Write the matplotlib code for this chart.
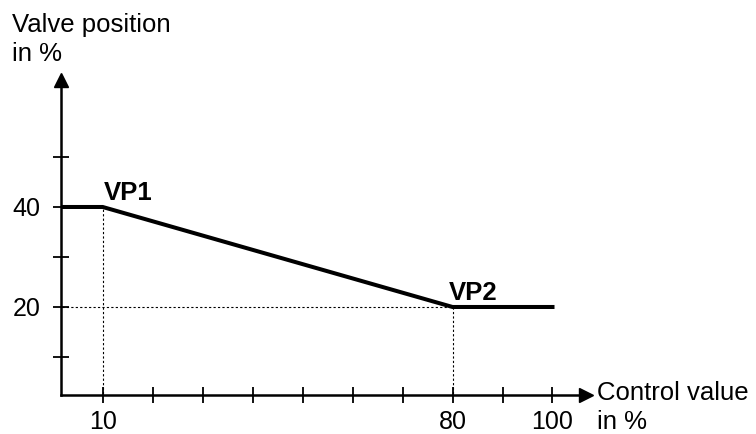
import matplotlib
matplotlib.use("Agg")
from matplotlib import pyplot as plt

plt.rcParams['font.family'] = ['Liberation Sans', 'DejaVu Sans']

# characteristic curve: control value -> valve position
control = [0, 10, 80, 100]
valve = [40, 40, 20, 20]

vp_names = ["VP1", "VP2"]
vp_x = [10, 80]
vp_y = [40, 20]

x_ticks = [10, 20, 30, 40, 50, 60, 70, 80, 90, 100]
x_labels = ["10", "", "", "", "", "", "", "80", "", "100"]
y_ticks = [10, 20, 30, 40, 50]
y_labels = ["", "20", "", "40", ""]

fig = plt.figure(figsize=(7.56, 4.34), dpi=100)
ax = fig.add_axes([0.0807, 0.0899, 0.6944, 0.7258])
ax.set_xlim(1.66, 106.7)
ax.set_ylim(2.4, 65.4)

for s in ["top", "right"]:
    ax.spines[s].set_visible(False)
for s in ["left", "bottom"]:
    ax.spines[s].set_linewidth(1.8)

# arrow heads at the axis ends
ax.plot(1, 0, ">k", ms=10, transform=ax.transAxes, clip_on=False)
ax.plot(0, 1, "^k", ms=10, transform=ax.transAxes, clip_on=False)

ax.set_xticks(x_ticks)
ax.set_xticklabels(x_labels)
ax.set_yticks(y_ticks)
ax.set_yticklabels(y_labels)
ax.tick_params(direction="inout", length=11, width=1.3, labelsize=18, color="black")
ax.tick_params(axis="x", pad=5)
ax.tick_params(axis="y", pad=9)

# guide lines
for x, y in zip(vp_x, vp_y):
    ax.plot([x, x], [0, y], color="black", lw=0.8, ls=(0, (2, 2)))
ax.plot([0, vp_x[1]], [vp_y[1], vp_y[1]], color="black", lw=0.8, ls=(0, (2, 2)))

ax.plot(control, valve, color="black", lw=2.9, solid_joinstyle="miter")

for name, x, y in zip(vp_names, vp_x, vp_y):
    ax.text(x + 0.3 - (1.1 if name == "VP2" else 0), y + 1.3, name,
            fontsize=18.5, fontweight="bold", ha="left", va="baseline")

fig.text(12 / 756, 1 - 13 / 434, "Valve position\nin %", fontsize=18.5,
         ha="left", va="top", linespacing=1.25)
fig.text(597 / 756, 1 - 381 / 434, "Control value\nin %", fontsize=18.5,
         ha="left", va="top", linespacing=1.25)

fig.savefig("out.png", dpi=100)
